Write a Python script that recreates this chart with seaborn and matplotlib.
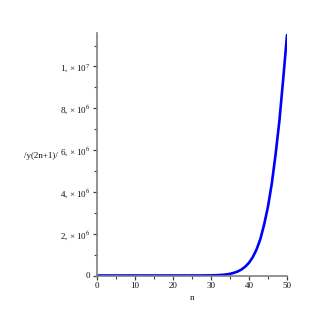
import matplotlib
matplotlib.use("Agg")
import matplotlib.pyplot as plt
import seaborn as sns
import pandas as pd
from matplotlib.ticker import MultipleLocator, FixedLocator, FixedFormatter

n_vals = [0, 5, 10, 15, 20, 22, 24, 26, 28, 30, 31, 32, 33, 34, 35, 36, 37, 38, 39, 40,
          41, 42, 43, 44, 45, 46, 47, 48, 49, 50]
y_vals = [0, 0, 0.05, 1, 28, 90, 280, 850, 2500, 7.0e3, 1.15e4, 1.9e4, 3.1e4, 5.0e4, 8.0e4,
          1.25e5, 1.9e5, 2.85e5, 4.2e5, 6.1e5, 8.8e5, 1.25e6, 1.75e6, 2.45e6, 3.3e6,
          4.4e6, 5.8e6, 7.4e6, 9.4e6, 1.15e7]

ytick_vals = [0, 2e6, 4e6, 6e6, 8e6, 1e7]
ytick_labels = ["0", "2, × 10$^{6}$", "4, × 10$^{6}$", "6, × 10$^{6}$", "8, × 10$^{6}$", "1, × 10$^{7}$"]
xtick_vals = [0, 10, 20, 30, 40, 50]

sns.set_style("ticks")
plt.rcParams['font.family'] = ['Liberation Serif', 'DejaVu Serif']
plt.rcParams['mathtext.fontset'] = 'stix'

df = pd.DataFrame({"n": n_vals, "y": y_vals})

fig = plt.figure(figsize=(3.12, 3.10), dpi=100)
ax = fig.add_axes([97/312, 1 - 275.5/310, (287 - 97)/312, (275.5 - 33)/310])
sns.lineplot(data=df, x="n", y="y", ax=ax, color="#0000ff", linewidth=1.9)

ax.set_xlim(0, 50)
ax.set_ylim(0, 1.16e7)
ax.xaxis.set_major_locator(FixedLocator(xtick_vals))
ax.xaxis.set_minor_locator(MultipleLocator(5))
ax.yaxis.set_major_locator(FixedLocator(ytick_vals))
ax.yaxis.set_major_formatter(FixedFormatter(ytick_labels))
ax.yaxis.set_minor_locator(MultipleLocator(1e6))

for s in ["top", "right"]:
    ax.spines[s].set_visible(False)
for s in ["left", "bottom"]:
    ax.spines[s].set_color("#808080")
    ax.spines[s].set_linewidth(1.2)
ax.tick_params(axis="both", which="major", length=3, width=0.9, color="#404040",
               labelsize=6.5, pad=2, labelcolor="#111111")
ax.tick_params(axis="both", which="minor", length=2, width=0.8, color="#404040")

ax.set_xlabel("")
ax.set_ylabel("")
fig.text(192/312, 1 - 298/310, "n", ha="center", va="center", fontsize=6.5, color="#111111")
fig.text(24/312, 1 - 156/310, "/y(2n+1)/", ha="left", va="center", fontsize=6.5, color="#111111")

fig.savefig("out.png", dpi=100)
